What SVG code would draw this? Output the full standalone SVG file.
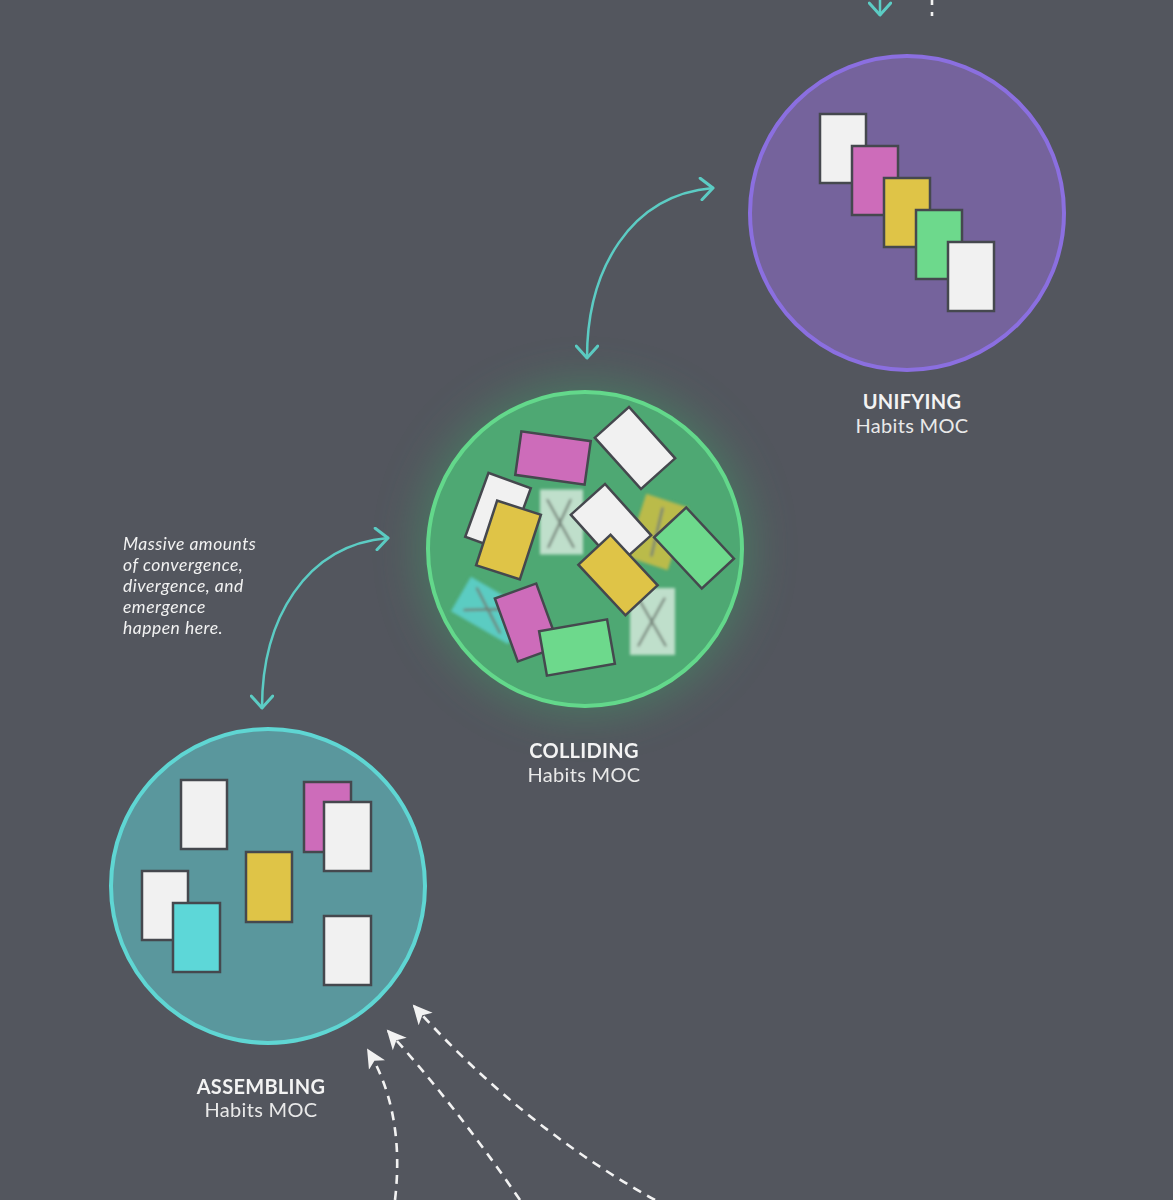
<svg xmlns="http://www.w3.org/2000/svg" width="1173" height="1200" viewBox="0 0 1173 1200">
  <defs>
    <style>
      .card { stroke: #45484e; stroke-width: 2.5; }
      .w { fill: #f1f1f1; }
      .p { fill: #cd6cba; }
      .y { fill: #dfc447; }
      .g { fill: #6dd98c; }
      .c { fill: #5dd7d8; }
      .ghost-line { stroke: #6f7f74; stroke-width: 2.5; stroke-linecap: round; }
      .link { fill: none; stroke: #5cccc4; stroke-width: 2.5; stroke-linecap: round; }
      .dash { fill: none; stroke: #f2f2f2; stroke-width: 2.6; stroke-dasharray: 9 7; }
      .title { font-family: Lato, "Open Sans", sans-serif; font-weight: 700; font-size: 20px; letter-spacing: 0.3px; fill: #f3f3f3; text-anchor: middle; }
      .sub { font-family: Lato, "Open Sans", sans-serif; font-weight: 400; font-size: 20px; letter-spacing: 0.3px; fill: #e9e9e9; text-anchor: middle; }
      .note { font-family: Lato, "Open Sans", sans-serif; font-style: italic; font-size: 17.5px; letter-spacing: 0.5px; fill: #f2f2f2; }
    </style>
    <marker id="chev" markerUnits="userSpaceOnUse" markerWidth="24" markerHeight="24" viewBox="0 0 20 20" refX="12" refY="10" orient="auto-start-reverse">
      <path d="M 2 1 L 12 10 L 2 19" fill="none" stroke="#5cccc4" stroke-width="2.5" stroke-linecap="round" stroke-linejoin="round"/>
    </marker>
    <marker id="tip" markerUnits="userSpaceOnUse" markerWidth="20" markerHeight="20" viewBox="0 0 16 16" refX="14" refY="8" orient="auto">
      <path d="M 0 0.5 L 15.5 8 L 0 15.5 L 4 8 z" fill="#f2f2f2"/>
    </marker>
    <filter id="soft" x="-20%" y="-20%" width="140%" height="140%">
      <feGaussianBlur stdDeviation="1.4"/>
    </filter>
    <filter id="halo" x="-50%" y="-50%" width="200%" height="200%">
      <feGaussianBlur stdDeviation="22"/>
    </filter>
  </defs>

  <rect width="1173" height="1200" fill="#53565e"/>

  <!-- connectors -->
  <g id="connectors">
    <line class="link" x1="880" y1="-4" x2="880" y2="15" marker-end="url(#chev)"/>
    <line x1="932" y1="-2" x2="932" y2="16" stroke="#f2f2f2" stroke-width="2.6" stroke-dasharray="7 7"/>
    <path class="link" d="M 587 358 C 587 270, 630 195, 713 188" marker-start="url(#chev)" marker-end="url(#chev)"/>
    <path class="link" d="M 262 708 C 262 620, 305 545, 388 538" marker-start="url(#chev)" marker-end="url(#chev)"/>
    <path class="dash" d="M 395 1200 C 402 1140, 392 1090, 368 1050" marker-end="url(#tip)"/>
    <path class="dash" d="M 520 1200 Q 455 1105 388 1031" marker-end="url(#tip)"/>
    <path class="dash" d="M 655 1200 Q 520 1125 414 1006" marker-end="url(#tip)"/>
  </g>

  <!-- unifying -->
  <g id="unifying">
    <circle cx="907" cy="213" r="157" fill="#75639c" stroke="#8b6fe0" stroke-width="4"/>
    <rect class="card w" x="820" y="114" width="46" height="69"/>
    <rect class="card p" x="852" y="146" width="46" height="69"/>
    <rect class="card y" x="884" y="178" width="46" height="69"/>
    <rect class="card g" x="916" y="210" width="46" height="69"/>
    <rect class="card w" x="948" y="242" width="46" height="69"/>
    <text class="title" x="912" y="409">UNIFYING</text>
    <text class="sub" x="912" y="433">Habits MOC</text>
  </g>

  <!-- colliding -->
  <g id="colliding">
    <circle cx="585" cy="549" r="166" fill="#3f9a66" opacity="0.5" filter="url(#halo)"/>
    <circle cx="585" cy="549" r="157" fill="#4ea873" stroke="#63d88b" stroke-width="4"/>
    <!-- discarded notes -->
    <g filter="url(#soft)">
      <g transform="translate(561.5,522)">
        <rect x="-21.5" y="-32.5" width="43" height="65" fill="#d3e9da" opacity="0.85"/>
        <line class="ghost-line" x1="-14" y1="-22" x2="12" y2="25"/>
        <line class="ghost-line" x1="9" y1="-22" x2="-13" y2="25"/>
      </g>
      <g transform="translate(657,532) rotate(18)">
        <rect x="-22" y="-33" width="44" height="66" fill="#c6bd45" opacity="0.9"/>
        <line class="ghost-line" x1="-2" y1="-24" x2="2" y2="24" stroke="#8a8a40"/>
      </g>
      <g transform="translate(489.5,610.5) rotate(30)">
        <rect x="-33" y="-20" width="66" height="40" fill="#5ccfcb" opacity="0.9"/>
        <line class="ghost-line" x1="-22" y1="-13" x2="20" y2="14" stroke="#3f8f8c"/>
        <line class="ghost-line" x1="-22" y1="12" x2="18" y2="-12" stroke="#3f8f8c"/>
      </g>
      <g transform="translate(652.5,621.5)">
        <rect x="-22.5" y="-33.5" width="45" height="67" fill="#d3e9da" opacity="0.85"/>
        <line class="ghost-line" x1="-14" y1="-23" x2="13" y2="24"/>
        <line class="ghost-line" x1="12" y1="-23" x2="-14" y2="24"/>
      </g>
    </g>
    <rect class="card p" x="-35" y="-22" width="70" height="44" transform="translate(553,458) rotate(8)"/>
    <rect class="card w" x="-23" y="-34.5" width="46" height="69" transform="translate(635,448) rotate(-42)"/>
    <rect class="card w" x="-22.5" y="-34" width="45" height="68" transform="translate(498,512.5) rotate(20)"/>
    <rect class="card y" x="-23" y="-34" width="46" height="68" transform="translate(508.5,540) rotate(18)"/>
    <rect class="card w" x="-23" y="-34.5" width="46" height="69" transform="translate(611,525) rotate(-42)"/>
    <rect class="card g" x="-22" y="-35" width="44" height="70" transform="translate(694,548) rotate(-43)"/>
    <rect class="card y" x="-22" y="-34.5" width="44" height="69" transform="translate(618,575) rotate(-43)"/>
    <rect class="card p" x="-22" y="-33.5" width="44" height="67" transform="translate(527,622.5) rotate(-20)"/>
    <rect class="card g" x="-34.5" y="-22.5" width="69" height="45" transform="translate(577,647.5) rotate(-10)"/>
    <text class="title" x="584" y="758">COLLIDING</text>
    <text class="sub" x="584" y="782">Habits MOC</text>
  </g>

  <!-- assembling -->
  <g id="assembling">
    <circle cx="268" cy="886" r="157" fill="#5a979d" stroke="#5fd6d3" stroke-width="4"/>
    <rect class="card w" x="181" y="780" width="46" height="69"/>
    <rect class="card p" x="304" y="782" width="47" height="70"/>
    <rect class="card w" x="324" y="802" width="47" height="69"/>
    <rect class="card y" x="246" y="852" width="46" height="70"/>
    <rect class="card w" x="142" y="871" width="46" height="69"/>
    <rect class="card c" x="173" y="903" width="47" height="69"/>
    <rect class="card w" x="324" y="916" width="47" height="69"/>
    <text class="title" x="261" y="1094">ASSEMBLING</text>
    <text class="sub" x="261" y="1117">Habits MOC</text>
  </g>

  <!-- annotation -->
  <g id="note">
    <text class="note" x="123" y="550">Massive amounts</text>
    <text class="note" x="123" y="571">of convergence,</text>
    <text class="note" x="123" y="592">divergence, and</text>
    <text class="note" x="123" y="613">emergence</text>
    <text class="note" x="123" y="634">happen here.</text>
  </g>
</svg>
